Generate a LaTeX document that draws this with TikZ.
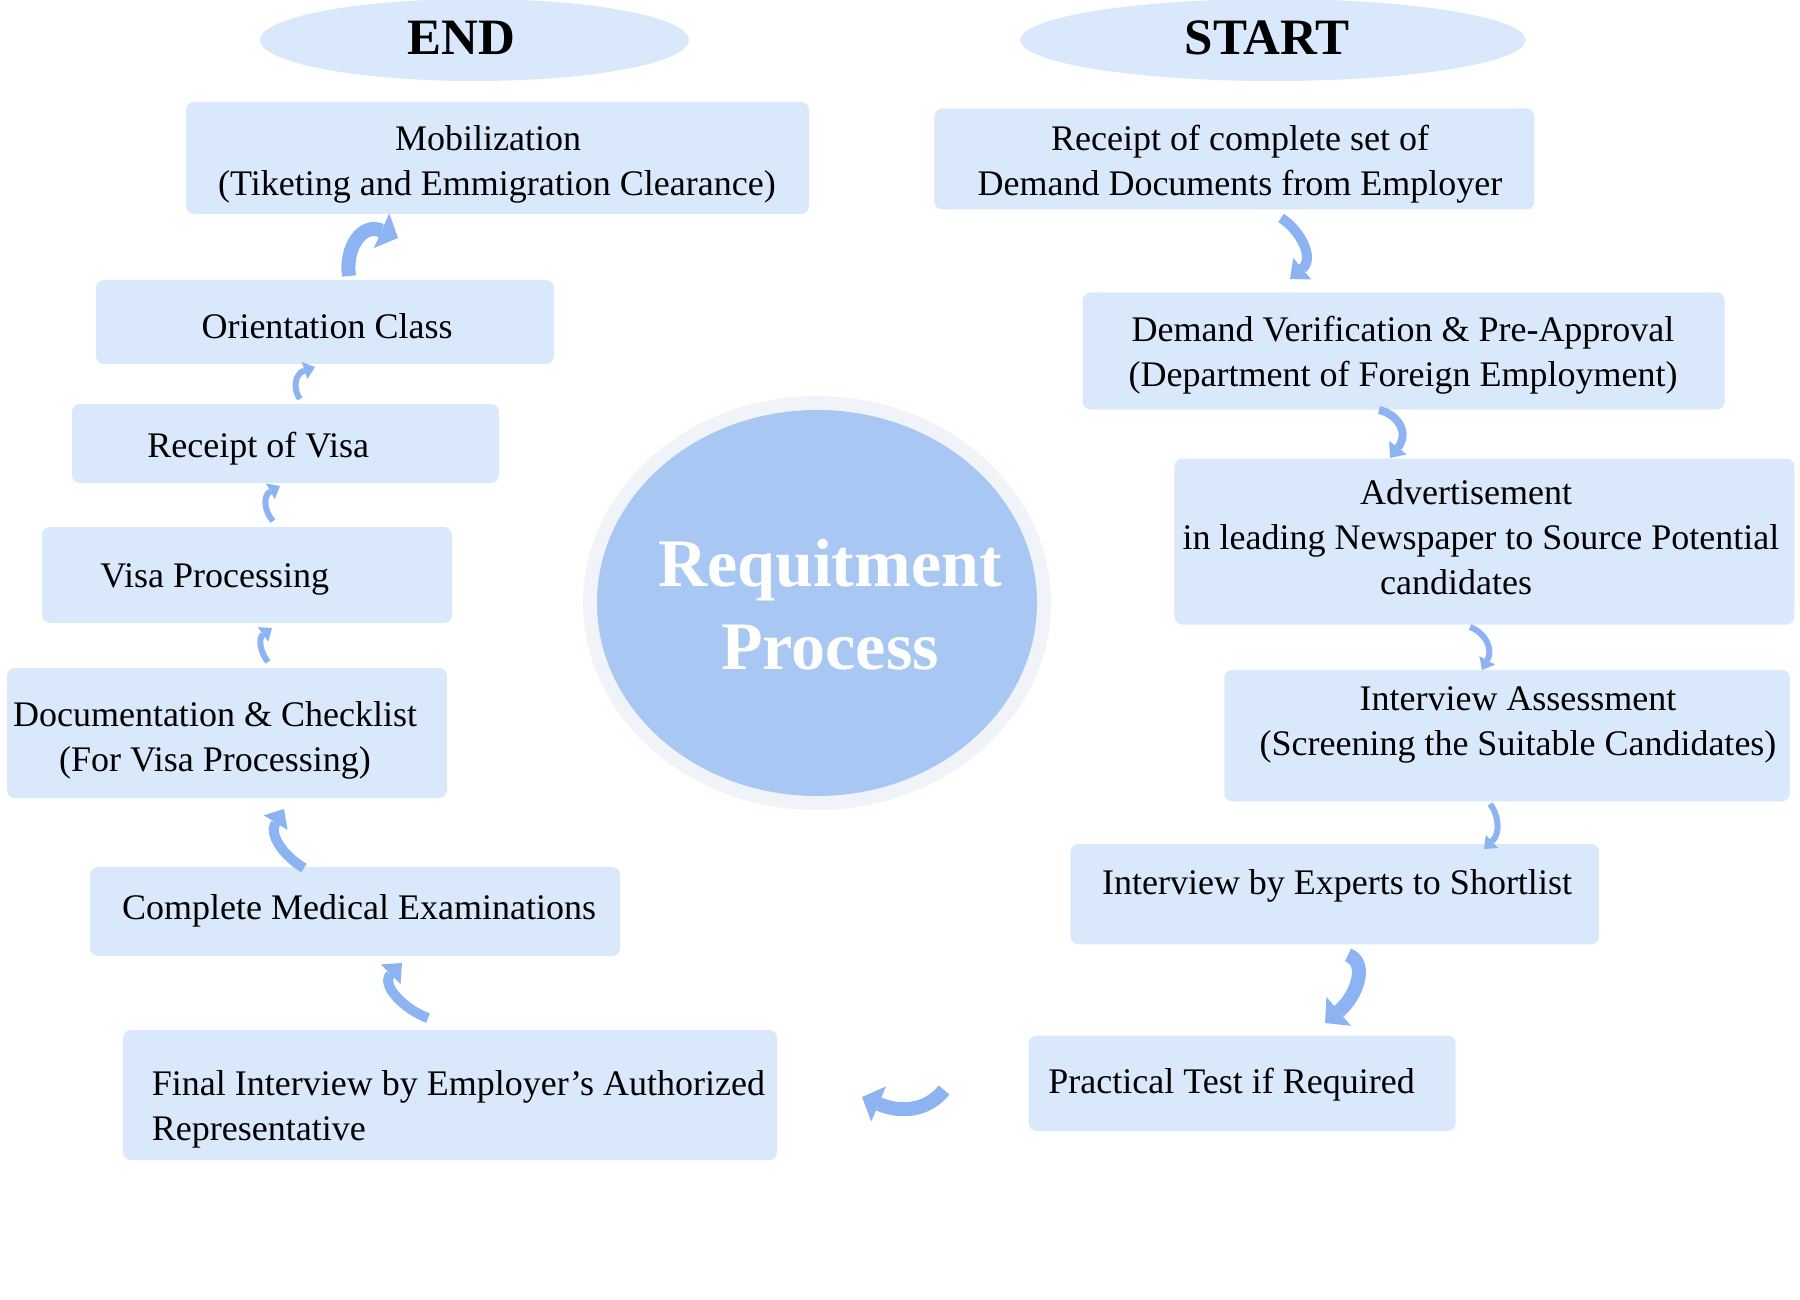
\documentclass[tikz,border=0pt]{standalone}
\usepackage{fontspec}
\setmainfont{Liberation Serif}
\usetikzlibrary{arrows.meta,shapes.geometric}
\definecolor{boxblue}{RGB}{218,232,252}
\definecolor{circblue}{RGB}{168,199,243}
\definecolor{ringgray}{RGB}{240,243,248}
\definecolor{arrowblue}{RGB}{141,180,242}
\tikzset{
  stepbox/.style={fill=boxblue, draw=none, rounded corners=4pt, inner sep=0pt},
  oval/.style={ellipse, fill=boxblue, draw=none, inner sep=0pt},
  txt/.style={inner sep=0pt, align=center, font=\fontsize{18pt}{22.5pt}\selectfont},
  ltxt/.style={inner sep=0pt, align=left, anchor=west, font=\fontsize{18pt}{22.5pt}\selectfont},
  headtxt/.style={inner sep=0pt, font=\bfseries\fontsize{25.5pt}{30pt}\selectfont},
  flow/.style={draw=arrowblue, line cap=butt},
  big/.style={flow, line width=7pt, -{Triangle[length=9pt, width=19pt, line width=0pt]}},
  mid/.style={flow, line width=5pt, -{Triangle[length=8pt, width=14pt, line width=0pt]}},
  sml/.style={flow, line width=4pt, -{Triangle[length=6.5pt, width=11pt, line width=0pt]}},
  tiny/.style={flow, line width=3pt, -{Triangle[length=5.5pt, width=9pt, line width=0pt]}}
}
\begin{document}
\begin{tikzpicture}[x=0.5pt,y=-0.5pt]
\useasboundingbox (0,0) rectangle (1800,1300);

% ovals
\node[oval, minimum width=214.5pt, minimum height=41pt] (endov) at (474.5,40) {};
\node[headtxt] (endt) at (461,38) {END};
\node[oval, minimum width=252.6pt, minimum height=41pt] (startov) at (1273,40) {};
\node[headtxt] (startt) at (1267,38) {START};

% centre circle
\node[ellipse, fill=ringgray, minimum width=234pt, minimum height=207pt, inner sep=0pt] (ring) at (817,603) {};
\node[ellipse, fill=circblue, minimum width=220pt, minimum height=193pt, inner sep=0pt] (core) at (817,603) {};
\node[inner sep=0pt, align=center, text=white, font=\bfseries\fontsize{34pt}{41.5pt}\selectfont] (coret) at (830,605) {Requitment\\Process};

% left column
\node[stepbox, minimum width=311.5pt, minimum height=56pt] (l1) at (497.5,158) {};
\node[txt] (l1t) at (497,164) {Mobilization\hspace*{9pt}\\(Tiketing and Emmigration Clearance)};
\node[stepbox, minimum width=229pt, minimum height=42pt] (l2) at (325,322) {};
\node[txt] (l2t) at (327,326) {Orientation Class};
\node[stepbox, minimum width=213.5pt, minimum height=39.5pt] (l3) at (285.5,443.5) {};
\node[ltxt] (l3t) at (147,449) {Receipt of Visa};
\node[stepbox, minimum width=205pt, minimum height=48pt] (l4) at (247,575) {};
\node[ltxt] (l4t) at (100,579) {Visa Processing};
\node[stepbox, minimum width=220pt, minimum height=65pt] (l5) at (227,733) {};
\node[txt] (l5t) at (215,740) {Documentation \& Checklist\\(For Visa Processing)};
\node[stepbox, minimum width=265pt, minimum height=44.5pt] (l6) at (355,911.5) {};
\node[txt] (l6t) at (359,911) {Complete Medical Examinations};
\node[stepbox, minimum width=327pt, minimum height=65pt] (l7) at (450,1095) {};
\node[ltxt] (l7t) at (151.5,1109) {Final Interview by Employer’s Authorized\\Representative};

% right column
\node[stepbox, minimum width=300pt, minimum height=50.5pt] (r1) at (1234.4,159) {};
\node[txt] (r1t) at (1240,164) {Receipt of complete set of\\Demand Documents from Employer};
\node[stepbox, minimum width=321pt, minimum height=58.5pt] (r2) at (1403.7,351) {};
\node[txt] (r2t) at (1403,355) {Demand Verification \& Pre-Approval\\(Department of Foreign Employment)};
\node[stepbox, minimum width=310pt, minimum height=83pt] (r3) at (1484.4,541.5) {};
\node[txt] (r3t) at (1481,537) {Advertisement\hspace*{15pt}\\in leading Newspaper to Source Potential\\candidates\hspace*{25pt}};
\node[stepbox, minimum width=282.75pt, minimum height=65.7pt] (r4) at (1507,735.6) {};
\node[txt] (r4t) at (1518,725) {Interview Assessment\\(Screening the Suitable Candidates)};
\node[stepbox, minimum width=264.35pt, minimum height=50.2pt] (r5) at (1334.8,894.2) {};
\node[txt] (r5t) at (1337,886) {Interview by Experts to Shortlist};
\node[stepbox, minimum width=213.5pt, minimum height=47.7pt] (r6) at (1242.2,1083.3) {};
\node[ltxt] (r6t) at (1048,1085) {Practical Test if Required};

% arrow end points
\coordinate (a1s) at (1281,218);  \coordinate (a1e) at (1290,279);
\coordinate (a2s) at (1379,410);  \coordinate (a2e) at (1390,458);
\coordinate (a3s) at (1470,627);  \coordinate (a3e) at (1482,670);
\coordinate (a4s) at (1490,804);  \coordinate (a4e) at (1484,849);
\coordinate (a5s) at (1348,955);  \coordinate (a5e) at (1325,1023);
\coordinate (a6s) at (944,1090);  \coordinate (a6e) at (862,1097);
\coordinate (b1s) at (428,1018);  \coordinate (b1e) at (402,963);
\coordinate (b2s) at (304,868);   \coordinate (b2e) at (284,809);
\coordinate (b3s) at (268,662);   \coordinate (b3e) at (272,628);
\coordinate (b4s) at (273,521);   \coordinate (b4e) at (280,486);
\coordinate (b5s) at (300,399);   \coordinate (b5e) at (315,367);
\coordinate (b6s) at (349,276);   \coordinate (b6e) at (398,238);

% arrows
\draw[mid]  (a1s) .. controls (1300,230) and (1315,258) .. (a1e);
\draw[sml]  (a2s) .. controls (1397,414) and (1410,432) .. (a2e);
\draw[tiny] (a3s) .. controls (1484,632) and (1494,648) .. (a3e);
\draw[tiny] (a4s) .. controls (1497,812) and (1502,832) .. (a4e);
\draw[big]  (a5s) .. controls (1368,962) and (1358,995) .. (a5e);
\draw[big]  (a6s) .. controls (930,1108) and (905,1115) .. (a6e);
\draw[mid]  (b1s) .. controls (405,1010) and (380,985) .. (b1e);
\draw[mid]  (b2s) .. controls (285,857) and (268,835) .. (b2e);
\draw[tiny] (b3s) .. controls (260,652) and (258,638) .. (b3e);
\draw[tiny] (b4s) .. controls (265,513) and (262,496) .. (b4e);
\draw[tiny] (b5s) .. controls (293,390) and (294,374) .. (b5e);
\draw[big]  (b6s) .. controls (345,248) and (362,222) .. (b6e);
\end{tikzpicture}
\end{document}
